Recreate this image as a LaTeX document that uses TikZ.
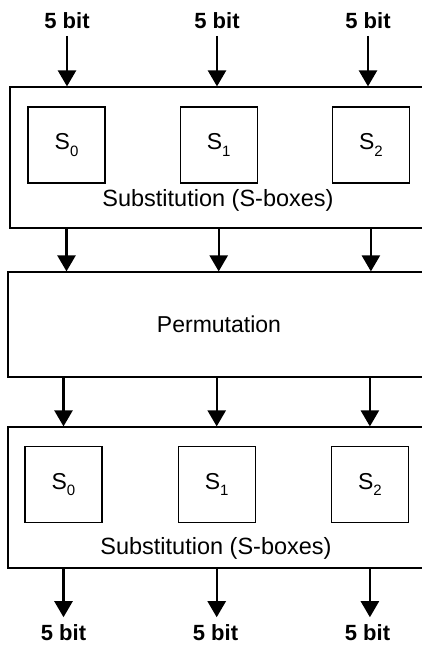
\documentclass[tikz,border=0pt]{standalone}
\usepackage{fontspec}
\setmainfont{Liberation Sans}
\usetikzlibrary{arrows.meta,positioning}
\newcommand\sboxname[1]{S\raisebox{-.3em}{\fontsize{15}{15}\selectfont #1}}
\tikzset{
  stage/.style={draw, line width=1.2pt, minimum width=422pt, inner sep=0pt,
    font=\fontsize{23}{26}\selectfont},
  sbox/.style={draw, line width=1.2pt, minimum width=77pt, minimum height=76pt,
    inner sep=0pt, font=\fontsize{23}{26}\selectfont},
  bits/.style={font=\bfseries\fontsize{22}{24}\selectfont, inner sep=7pt},
  caption/.style={font=\fontsize{23.5}{26}\selectfont, inner sep=0pt},
  arrow/.style={-{Triangle[length=16pt,width=18pt]}, line width=2.4pt}
}

\begin{document}
\begin{tikzpicture}[x=1pt,y=-1pt]
  \useasboundingbox (0,0) rectangle (422,646);

  % stages
  \node[stage,minimum width=420pt,minimum height=141pt] (sub1) at (220,157.5) {};
  \node[stage,minimum height=105pt] (perm) at (219,324.5) {Permutation};
  \node[stage,minimum height=141pt] (sub2) at (219,497.5) {};

  % first substitution layer
  \node[sbox] (s0) at (66.5,145) {\sboxname{0}};
  \node[sbox,right=74pt of s0] (s1) {\sboxname{1}};
  \node[sbox,right=74pt of s1] (s2) {\sboxname{2}};
  \node[caption] (lab1) at (218,200) {Substitution (S-boxes)};

  % second substitution layer
  \node[sbox] (t0) at (63.5,484.5) {\sboxname{0}};
  \node[sbox,right=75pt of t0] (t1) {\sboxname{1}};
  \node[sbox,right=75pt of t1] (t2) {\sboxname{2}};
  \node[caption] (lab2) at (216,548) {Substitution (S-boxes)};

  % inputs and outputs
  \node[bits] (in0) at (67,20.5) {5 bit};
  \node[bits] (in1) at (217,20.5) {5 bit};
  \node[bits] (in2) at (368,20.5) {5 bit};
  \node[bits] (out0) at (63.5,632.5) {5 bit};
  \node[bits] (out1) at (215.5,632.5) {5 bit};
  \node[bits] (out2) at (367.5,632.5) {5 bit};

  \draw[arrow] (in0.south) -- (in0.south |- sub1.north);
  \draw[arrow] (in1.south) -- (in1.south |- sub1.north);
  \draw[arrow] (in2.south) -- (in2.south |- sub1.north);

  \draw[arrow] (s0 |- sub1.south) -- (s0 |- perm.north);
  \draw[arrow] (s1 |- sub1.south) -- (s1 |- perm.north);
  \draw[arrow] (s2 |- sub1.south) -- (s2 |- perm.north);

  \draw[arrow] (t0 |- perm.south) -- (t0 |- sub2.north);
  \draw[arrow] (t1 |- perm.south) -- (t1 |- sub2.north);
  \draw[arrow] (t2 |- perm.south) -- (t2 |- sub2.north);

  \draw[arrow] (t0 |- sub2.south) -- (t0 |- out0.north);
  \draw[arrow] (t1 |- sub2.south) -- (t1 |- out1.north);
  \draw[arrow] (t2 |- sub2.south) -- (t2 |- out2.north);
\end{tikzpicture}
\end{document}
